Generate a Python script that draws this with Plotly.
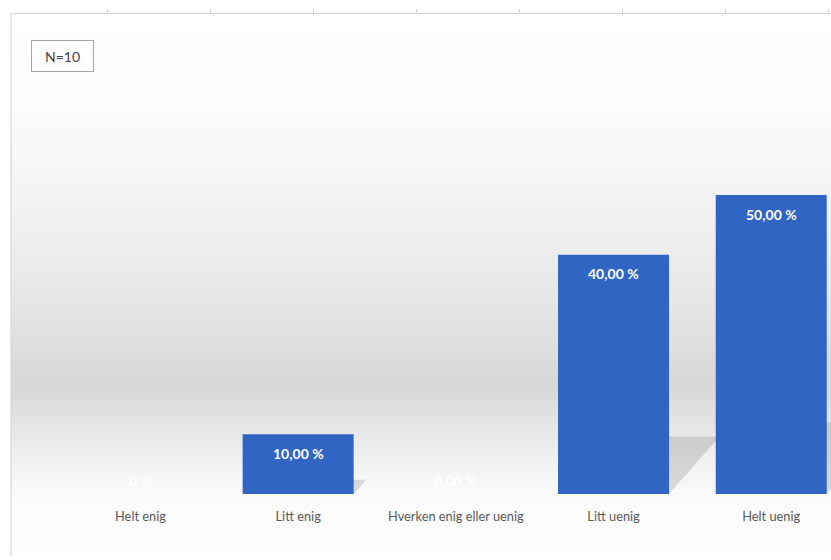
import numpy as np
import plotly.graph_objects as go

# ---- data ----
categories = ["Helt enig", "Litt enig", "Hverken enig eller uenig", "Litt uenig", "Helt uenig"]
values = [0, 10, 0, 40, 50]
value_labels = ["0 %", "10,00 %", "0,00 %", "40,00 %", "50,00 %"]
n_label = "N=10"

# ---- geometry / style ----
W, H = 831, 560
ML, MR, MT, MB = 11, 0, 14, 55
plot_w = W - ML - MR
plot_h = H - MT - MB
y_range = [-1.84, 80.27]
x_range = [-0.821, 4.379]
px_per_val = plot_h / (y_range[1] - y_range[0])
px_per_cat = plot_w / (x_range[1] - x_range[0])
bar_width = 0.704
BAR_COLOR = "#3165c4"
FONT = "Lato"

fig = go.Figure()
fig.add_trace(go.Bar(
    x=list(range(len(categories))), y=values,
    width=bar_width,
    marker=dict(color=BAR_COLOR, line=dict(width=0)),
    hoverinfo="skip",
))
# invisible helper trace so the top frame axis is drawn
fig.add_trace(go.Scatter(x=[0], y=[0], xaxis="x2", mode="markers",
                         marker=dict(opacity=0), hoverinfo="skip", showlegend=False))

shapes = []
# background gradient (paper-referenced bands)
stops_py = [14, 100, 200, 300, 385, 430, 470, 500, 556]
stops_lv = [255, 252, 243, 230, 215, 230, 244, 251, 254]
def py_to_paper(py):
    return (H - MB - py) / plot_h
step = 3
for py in range(14, 556, step):
    lv = int(round(np.interp(py + step / 2, stops_py, stops_lv)))
    col = f"rgb({lv},{lv},{lv})"
    shapes.append(dict(type="rect", xref="paper", yref="paper",
                       x0=0, x1=1, y0=py_to_paper(py + step), y1=py_to_paper(py),
                       fillcolor=col, line=dict(width=0), layer="below"))

# perspective shadows behind bars
for i, v in enumerate(values):
    if v <= 0:
        continue
    h = 0.24 * v
    dx = (h * px_per_val) * 0.88 / px_per_cat
    x0, x1 = i - bar_width / 2, i + bar_width / 2
    path = f"M {x0},0 L {x1},0 L {x1 + dx},{h} L {x0 + dx},{h} Z"
    shapes.append(dict(type="path", xref="x", yref="y", path=path,
                       fillcolor="rgba(90,90,90,0.2)", line=dict(width=0), layer="below"))

# left border line extending below the plot
shapes.append(dict(type="line", xref="paper", yref="paper", x0=0, x1=0,
                   y0=1, y1=py_to_paper(556), line=dict(color="#d9d9d9", width=1.2)))

annotations = []
for i, (v, lab) in enumerate(zip(values, value_labels)):
    annotations.append(dict(x=i, y=v, xref="x", yref="y", text=f"<b>{lab}</b>",
                            showarrow=False, yshift=-19 if v > 0 else 14,
                            font=dict(family=FONT, size=14, color="white")))

annotations.append(dict(xref="paper", yref="paper",
                        x=(62 - ML) / plot_w, y=py_to_paper(56),
                        xanchor="center", yanchor="middle",
                        text=n_label, showarrow=False,
                        font=dict(family=FONT, size=14, color="#404040"),
                        bordercolor="#a6a6a6", borderwidth=1, borderpad=7,
                        bgcolor="white", width=47, height=16))

fig.update_layout(
    width=W, height=H, autosize=False,
    margin=dict(l=ML, r=MR, t=MT, b=MB, pad=0),
    paper_bgcolor="white", plot_bgcolor="rgba(0,0,0,0)",
    showlegend=False, bargap=0.296,
    shapes=shapes, annotations=annotations,
    xaxis=dict(range=x_range, tickmode="array",
               tickvals=list(range(len(categories))), ticktext=categories,
               showgrid=False, zeroline=False, showline=False, ticks="",
               tickfont=dict(family=FONT, size=12.8, color="#595959"),
               ticklabelstandoff=2, fixedrange=True),
    xaxis2=dict(overlaying="x", side="top", range=[0, plot_w / 103],
                tickmode="linear", tick0=(107 - ML) / 103, dtick=1,
                ticks="outside", ticklen=4, tickcolor="#d0d0d0",
                showline=True, linecolor="#d9d9d9", linewidth=1.2,
                showticklabels=False, showgrid=False, zeroline=False),
    yaxis=dict(range=y_range, showgrid=False, zeroline=False,
               showticklabels=False, showline=False, ticks=""),
)

fig.write_html("out.html")
